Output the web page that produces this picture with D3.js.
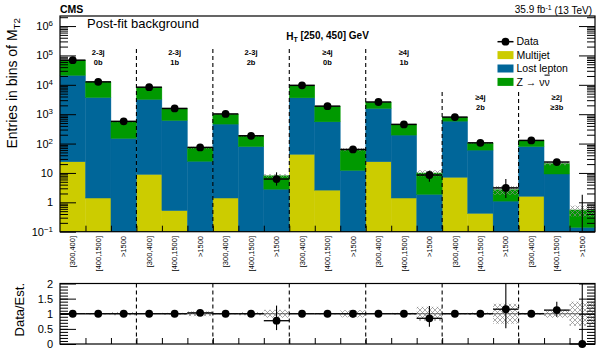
<!DOCTYPE html>
<html>
<head>
<meta charset="utf-8">
<script src="https://cdn.jsdelivr.net/npm/d3@7"></script>
<style>
body { margin: 0; background: #fff; }
svg { display: block; font-family: "Liberation Sans", Arial, Helvetica, sans-serif; }
</style>
</head>
<body>
<div id="chart"></div>
<script>
// search regions (3 MT2 bins each)
const regionJets = ["2-3j", "2-3j", "2-3j", "\u22654j", "\u22654j", "\u22654j", "\u22652j"];
const regionBtags = ["0b", "1b", "2b", "0b", "1b", "2b", "\u22653b"];
const mt2Labels = ["[300,400]", "[400,1500]", ">1500"];

// post-fit background estimates per bin
const multijet = [24, 1.4, 0, 8.9, 0.52, 0, 1.4, 0, 0, 43, 2.6, 0, 24, 1.4, 0, 7.1, 0.42, 0, 1.6, 0, 0];
const lostLepton = [21000, 3700, 150, 3190, 610, 25, 459, 79, 2.8, 3560, 547, 12.2, 1546, 193, 1.87, 573, 59.6, 1.1, 77.4, 9.2, 0.14];
const znunu = [47000, 8800, 410, 5000, 940, 47, 540, 103, 5.2, 5800, 1300, 50, 980, 251, 8.1, 210, 44, 1.6, 48, 11.8, 0.41];
const bkgUnc = [0.01, 0.02, 0.05, 0.01, 0.03, 0.08, 0.02, 0.05, 0.13, 0.01, 0.02, 0.12, 0.01, 0.03, 0.23, 0.02, 0.04, 0.33, 0.03, 0.13, 0.4];

// observed data
const data = [69000, 12600, 570, 8300, 1570, 74, 1020, 184, 6.2, 9600, 1880, 63, 2600, 450, 8.5, 796, 106, 3.1, 128, 23.5, 0];
const dataErrLo = [260, 112, 24, 91, 40, 8.6, 32, 13.6, 2.5, 98, 43, 8, 51, 21, 3.5, 28, 10, 1.7, 11, 4.8, 0];
const dataErrHi = [260, 112, 24, 91, 40, 8.6, 32, 13.6, 4.3, 98, 43, 8, 51, 21, 3.4, 28, 10, 3.1, 11, 4.8, 1.8];

// data / estimate
const ratio = [1, 1, 1, 1, 1, 1.03, 1, 1, 0.77, 1, 1, 1, 1, 1, 0.85, 1, 1, 1.15, 1, 1.12, 0];
const ratioErrLo = [0.005, 0.01, 0.04, 0.01, 0.03, 0.1, 0.03, 0.07, 0.31, 0.01, 0.02, 0.12, 0.02, 0.05, 0.28, 0.04, 0.1, 0.63, 0.09, 0.22, 0];
const ratioErrHi = [0.005, 0.01, 0.04, 0.01, 0.03, 0.1, 0.03, 0.07, 0.5, 0.01, 0.02, 0.12, 0.02, 0.05, 0.41, 0.04, 0.1, 1.0, 0.09, 0.28, 3.3];

const yMajors = [0.1, 1, 10, 100, 1e3, 1e4, 1e5, 1e6];
const ratioMajors = [0, 0.5, 1, 1.5, 2];

var width = 598, height = 353;
var left = 60, right = 595, top1 = 16, bot1 = 231.7, top2 = 283.5, bot2 = 344;
var nBins = multijet.length;
var colors = {multijet: "#cccc00", lostLepton: "#006699", znunu: "#009900"};

var svg = d3.select("#chart").append("svg")
    .attr("width", width)
    .attr("height", height);

svg.append("defs").append("pattern")
    .attr("id", "hatch")
    .attr("width", 5).attr("height", 5)
    .attr("patternUnits", "userSpaceOnUse")
    .append("path")
    .attr("d", "M0,0 L5,5 M5,0 L0,5")
    .attr("stroke", "#888")
    .attr("stroke-width", 0.7);

var x = d3.scaleLinear().domain([0, nBins]).range([left, right]);
var y = d3.scaleLog().domain([0.1, 2.2e6]).range([bot1, top1]);
var yr = d3.scaleLinear().domain([0, 2]).range([bot2, top2]);
var bw = x(1) - x(0);
var floorY = v => y(Math.max(v, 0.1));

// stacked backgrounds
var rows = multijet.map((m, i) => ({multijet: m, lostLepton: lostLepton[i], znunu: znunu[i]}));
var stacked = d3.stack().keys(["multijet", "lostLepton", "znunu"])(rows);
var totals = rows.map(r => r.multijet + r.lostLepton + r.znunu);

svg.append("g").selectAll("g")
    .data(stacked)
    .join("g")
    .attr("fill", d => colors[d.key])
    .attr("stroke", d => colors[d.key])
    .attr("stroke-width", 0.4)
    .selectAll("rect")
    .data(d => d)
    .join("rect")
    .attr("x", (d, i) => x(i))
    .attr("width", bw)
    .attr("y", d => floorY(d[1]))
    .attr("height", d => floorY(d[0]) - floorY(d[1]));

// uncertainty band, upper
svg.append("g").selectAll("rect")
    .data(totals)
    .join("rect")
    .attr("x", (d, i) => x(i))
    .attr("width", bw)
    .attr("y", (d, i) => floorY(d * (1 + bkgUnc[i])))
    .attr("height", (d, i) => floorY(d * (1 - bkgUnc[i])) - floorY(d * (1 + bkgUnc[i])))
    .attr("fill", "url(#hatch)");

// region separators
for (let b = 1; b < regionJets.length; b++) {
    let xb = x(b * 3);
    svg.append("line").attr("x1", xb).attr("x2", xb).attr("y1", b >= 5 ? 92 : 49).attr("y2", bot1)
        .attr("stroke", "black").attr("stroke-width", 1.1).attr("stroke-dasharray", "4,3");
    svg.append("line").attr("x1", xb).attr("x2", xb).attr("y1", top2).attr("y2", bot2)
        .attr("stroke", "black").attr("stroke-width", 1.1).attr("stroke-dasharray", "4,3");
}

// region labels
regionJets.forEach(function (lab, k) {
    let cx = x(k * 3 + 1.5), y0 = k >= 5 ? 100 : 55;
    svg.append("text").attr("x", cx).attr("y", y0).attr("text-anchor", "middle")
        .attr("font-size", 7.5).attr("font-weight", "bold").text(lab);
    svg.append("text").attr("x", cx).attr("y", y0 + 9.5).attr("text-anchor", "middle")
        .attr("font-size", 7.5).attr("font-weight", "bold").text(regionBtags[k]);
});

// data points
var dataG = svg.append("g");
data.forEach(function (v, i) {
    let cx = x(i + 0.5);
    if (v > 0 || dataErrHi[i] > 0) {
        dataG.append("line").attr("x1", cx).attr("x2", cx)
            .attr("y1", floorY(v - dataErrLo[i])).attr("y2", floorY(v + dataErrHi[i]))
            .attr("stroke", "black").attr("stroke-width", 1.1);
    }
    if (v > 0) {
        dataG.append("line").attr("x1", x(i)).attr("x2", x(i + 1)).attr("y1", y(v)).attr("y2", y(v))
            .attr("stroke", "black").attr("stroke-width", 1.5);
        dataG.append("circle").attr("cx", cx).attr("cy", y(v)).attr("r", 3.9).attr("fill", "black");
    }
});

function draw(axis, translate) {
    var g = svg.append("g").attr("transform", translate).call(axis);
    g.select(".domain").remove();
    g.selectAll(".tick line").attr("stroke", "black");
    return g;
}

function minorLog() {
    var vals = [];
    for (let e = -1; e <= 6; e++) {
        for (let m = 2; m <= 9; m++) {
            if (m * Math.pow(10, e) <= 2.2e6) vals.push(m * Math.pow(10, e));
        }
    }
    return vals;
}

// upper y axis
var yAx = draw(d3.axisLeft(y).tickValues(yMajors).tickSize(-16).tickPadding(7).tickFormat(d => d), `translate(${left},0)`);
yAx.selectAll(".tick text")
    .attr("font-size", 11)
    .attr("font-family", "Liberation Sans, Arial, sans-serif")
    .attr("fill", "black")
    .each(function (d) {
        if (d === 1 || d === 10) return;
        var e = Math.round(Math.log10(d));
        d3.select(this).text("10").append("tspan").attr("dy", "-0.5em").attr("font-size", "0.72em").text(e < 0 ? "\u2212" + (-e) : e);
    });
draw(d3.axisLeft(y).tickValues(minorLog()).tickSize(-8).tickFormat(""), `translate(${left},0)`);
draw(d3.axisRight(y).tickValues(yMajors).tickSize(-16).tickFormat(""), `translate(${right},0)`);
draw(d3.axisRight(y).tickValues(minorLog()).tickSize(-8).tickFormat(""), `translate(${right},0)`);
draw(d3.axisBottom(x).tickValues(d3.range(1, nBins)).tickSize(-6).tickFormat(""), `translate(0,${bot1})`);

// bin labels
d3.range(nBins).forEach(function (i) {
    svg.append("text")
        .attr("transform", `translate(${x(i + 0.5)},236) rotate(-90)`)
        .attr("text-anchor", "end")
        .attr("dy", "0.35em")
        .attr("font-size", 7.5)
        .text(mt2Labels[i % 3]);
});

svg.append("rect").attr("x", left).attr("y", top1).attr("width", right - left).attr("height", bot1 - top1)
    .attr("fill", "none").attr("stroke", "black").attr("stroke-width", 1.2);

// ratio panel
svg.append("g").selectAll("rect")
    .data(bkgUnc)
    .join("rect")
    .attr("x", (d, i) => x(i))
    .attr("width", bw)
    .attr("y", d => yr(1 + d))
    .attr("height", d => yr(1 - d) - yr(1 + d))
    .attr("fill", "url(#hatch)");

svg.append("line").attr("x1", left).attr("x2", right).attr("y1", yr(1)).attr("y2", yr(1))
    .attr("stroke", "black").attr("stroke-width", 0.6);

var ratioG = svg.append("g");
ratio.forEach(function (r, i) {
    let cx = x(i + 0.5);
    ratioG.append("line").attr("x1", cx).attr("x2", cx)
        .attr("y1", yr(Math.max(r - ratioErrLo[i], 0))).attr("y2", yr(Math.min(r + ratioErrHi[i], 2)))
        .attr("stroke", "black").attr("stroke-width", 1.1);
    ratioG.append("line").attr("x1", x(i)).attr("x2", x(i + 1)).attr("y1", yr(r)).attr("y2", yr(r))
        .attr("stroke", "black").attr("stroke-width", 1.3);
    ratioG.append("circle").attr("cx", cx).attr("cy", yr(r)).attr("r", 3.9).attr("fill", "black");
});

var rAx = draw(d3.axisLeft(yr).tickValues(ratioMajors).tickSize(-16).tickPadding(7).tickFormat(d => d), `translate(${left},0)`);
rAx.selectAll(".tick text").attr("font-size", 11).attr("font-family", "Liberation Sans, Arial, sans-serif").attr("fill", "black");
draw(d3.axisLeft(yr).tickValues(d3.range(0.1, 2, 0.1)).tickSize(-8).tickFormat(""), `translate(${left},0)`);
draw(d3.axisRight(yr).tickValues(ratioMajors).tickSize(-16).tickFormat(""), `translate(${right},0)`);
draw(d3.axisRight(yr).tickValues(d3.range(0.1, 2, 0.1)).tickSize(-8).tickFormat(""), `translate(${right},0)`);
draw(d3.axisBottom(x).tickValues(d3.range(1, nBins)).tickSize(-6).tickFormat(""), `translate(0,${bot2})`);

svg.append("rect").attr("x", left).attr("y", top2).attr("width", right - left).attr("height", bot2 - top2)
    .attr("fill", "none").attr("stroke", "black").attr("stroke-width", 1.2);

// axis titles
var yt = svg.append("text")
    .attr("transform", "translate(17,18) rotate(-90)")
    .attr("text-anchor", "end")
    .attr("font-size", 14)
    .text("Entries in bins of M");
yt.append("tspan").attr("dy", "0.3em").attr("font-size", "0.7em").text("T2");

svg.append("text")
    .attr("transform", "translate(24,283) rotate(-90)")
    .attr("text-anchor", "end")
    .attr("font-size", 13)
    .text("Data/Est.");

// legend
var legX = 497.5, legY = 41.7, legStep = 13.4;
svg.append("line").attr("x1", legX).attr("x2", legX + 16).attr("y1", legY).attr("y2", legY)
    .attr("stroke", "black").attr("stroke-width", 1.5);
svg.append("circle").attr("cx", legX + 8).attr("cy", legY).attr("r", 3.9).attr("fill", "black");
svg.append("text").attr("x", legX + 19).attr("y", legY + 3.7).attr("font-size", 10.5).text("Data");
[["multijet", "Multijet"], ["lostLepton", "Lost lepton"], ["znunu", "Z \u2192 \u03bd"]].forEach(function (e, k) {
    let yy = legY + (k + 1) * legStep;
    svg.append("rect").attr("x", legX).attr("y", yy - 4).attr("width", 16).attr("height", 8).attr("fill", colors[e[0]]);
    var t = svg.append("text").attr("x", legX + 19).attr("y", yy + 3.7).attr("font-size", 10.5).text(e[1]);
    if (e[0] === "znunu") t.append("tspan").attr("text-decoration", "overline").text("\u03bd");
});

// header texts
svg.append("text").attr("x", 60).attr("y", 13).attr("font-size", 10.5).attr("font-weight", "bold").text("CMS");
var lumi = svg.append("text").attr("x", 592).attr("y", 13).attr("text-anchor", "end").attr("font-size", 10).text("35.9 fb");
lumi.append("tspan").attr("dy", "-0.4em").attr("font-size", "0.7em").text("-1");
lumi.append("tspan").attr("dy", "0.4em").text(" (13 TeV)");

svg.append("text").attr("x", 87).attr("y", 27.5).attr("font-size", 13).text("Post-fit background");

var ht = svg.append("text").attr("x", 327.5).attr("y", 39.5).attr("text-anchor", "middle")
    .attr("font-size", 10).attr("font-weight", "bold").text("H");
ht.append("tspan").attr("dy", "0.3em").attr("font-size", "0.7em").text("T");
ht.append("tspan").attr("dy", "-0.3em").text(" [250, 450] GeV");
</script>
</body>
</html>
